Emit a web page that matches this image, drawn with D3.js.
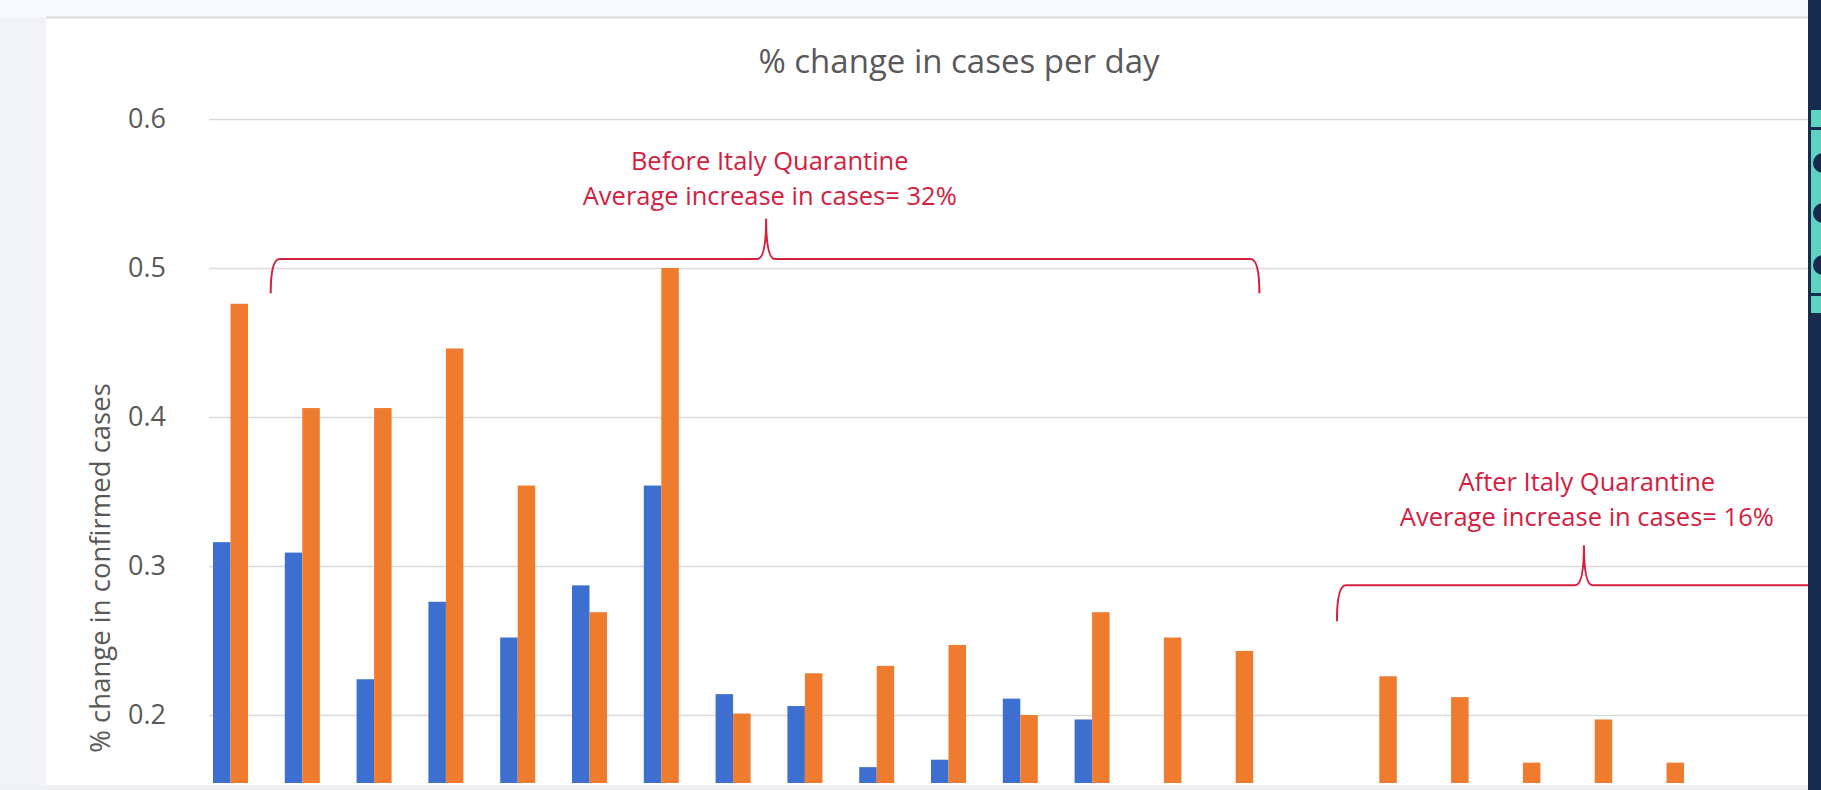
<!DOCTYPE html>
<html>
<head>
<meta charset="utf-8">
<script src="https://cdn.jsdelivr.net/npm/d3@7"></script>
<style>
  html, body { margin: 0; padding: 0; background: #f1f3f6; }
  svg { display: block; }
  .tick text { font-family: "Open Sans", sans-serif; fill: #595959; }
</style>
</head>
<body>
<svg class="chart"></svg>
<script>
// days shown in the crop (x labels are cut off in the picture)
var days = d3.range(1, 22).map(String);
var seriesNames = ["first", "second"];
var blueValues = [0.316, 0.309, 0.224, 0.276, 0.252, 0.287, 0.354, 0.214, 0.206, 0.165, 0.170, 0.211, 0.197,
                  null, null, null, null, null, null, null, null];
var orangeValues = [0.476, 0.406, 0.406, 0.446, 0.354, 0.269, 0.500, 0.201, 0.228, 0.233, 0.247, 0.200, 0.269,
                    0.252, 0.243, null, 0.226, 0.212, 0.168, 0.197, 0.168];
var yTicks = [0.2, 0.3, 0.4, 0.5, 0.6];
var colors = ["#3d6fd0", "#ee7b2e"];

// annotations in data units (x = day index position, y = value)
var braces = [
  {x0: 1.06, x1: 14.83, xm: 7.96, y: 0.506, yEnd: 0.483, yTip: 0.533,
   textX: 8.01, lines: ["Before Italy Quarantine", "Average increase in cases= 32%"], lineY: [0.572, 0.548]},
  {x0: 15.91, x1: 22.79, xm: 19.35, y: 0.287, yEnd: 0.263, yTip: 0.314,
   textX: 19.39, lines: ["After Italy Quarantine", "Average increase in cases= 16%"], lineY: [0.3565, 0.333]}
];

(function () {
  'use strict';

  var W = 1821, H = 790;
  var svg = d3.select(".chart").attr("width", W).attr("height", H);

  // card background
  svg.append("rect").attr("x", 0).attr("y", 0).attr("width", W).attr("height", 17).attr("fill", "#f7f8fa");
  svg.append("rect").attr("x", 46).attr("y", 18).attr("width", 1808 - 46).attr("height", 785 - 18).attr("fill", "#ffffff");
  svg.append("line").attr("x1", 46).attr("x2", 1808).attr("y1", 17.5).attr("y2", 17.5)
     .attr("stroke", "#dcdcdc").attr("stroke-width", 2);

  var plot = {left: 209, right: 1808, top: 0, bottom: 783};
  var step = 71.8, firstCenter = 230.5;

  var x = d3.scaleBand()
      .domain(days)
      .range([firstCenter - step / 2, firstCenter - step / 2 + step * days.length])
      .paddingInner(0.5125)
      .paddingOuter(0.5125 / 2);

  var x1 = d3.scaleBand().domain(seriesNames).range([0, x.bandwidth()]);

  var xi = d3.scaleLinear().domain([0, days.length]).range(x.range());

  var y = d3.scaleLinear().domain([0.2, 0.6]).range([715, 119]);

  svg.append("defs").append("clipPath").attr("id", "plotClip")
     .append("rect").attr("x", 0).attr("y", plot.top)
     .attr("width", plot.right).attr("height", plot.bottom - plot.top);

  // gridlines + tick labels
  var yAxis = d3.axisLeft(y).tickValues(yTicks).tickFormat(d3.format(".1f"))
      .tickSize(-(plot.right - plot.left)).tickPadding(43);
  var gy = svg.append("g").attr("transform", "translate(" + plot.left + ",0)").call(yAxis);
  gy.select(".domain").remove();
  gy.selectAll(".tick line").attr("stroke", "#d9d9d9").attr("stroke-width", 1.5);
  gy.selectAll(".tick text").attr("font-size", 27);

  var chart = svg.append("g").attr("clip-path", "url(#plotClip)");

  var rows = days.map(function (d, i) {
    return {day: d, vals: [blueValues[i], orangeValues[i]]};
  });

  var groups = chart.selectAll(".day").data(rows).enter().append("g")
      .attr("class", "day")
      .attr("transform", function (d) { return "translate(" + x(d.day) + ",0)"; });

  groups.selectAll("rect")
      .data(function (d) {
        return d.vals.map(function (v, k) { return {key: seriesNames[k], value: v, k: k}; })
                     .filter(function (e) { return e.value != null; });
      })
      .enter().append("rect")
      .attr("x", function (d) { return x1(d.key); })
      .attr("width", x1.bandwidth())
      .attr("y", function (d) { return y(d.value); })
      .attr("height", function (d) { return y(0) - y(d.value); })
      .attr("fill", function (d) { return colors[d.k]; });

  // braces
  var red = "#d3203f";
  function bracePath(b) {
    var X0 = xi(b.x0), X1 = xi(b.x1), XM = xi(b.xm);
    var Y = y(b.y), YE = y(b.yEnd), YT = y(b.yTip);
    var r = 9;
    var p = d3.path();
    p.moveTo(X0, YE);
    p.quadraticCurveTo(X0, Y, X0 + r, Y);
    p.lineTo(XM - r, Y);
    p.quadraticCurveTo(XM, Y, XM, YT);
    p.quadraticCurveTo(XM, Y, XM + r, Y);
    p.lineTo(X1 - r, Y);
    p.quadraticCurveTo(X1, Y, X1, YE);
    return p.toString();
  }

  var ann = svg.append("g").attr("clip-path", "url(#plotClip)");
  ann.selectAll(".brace").data(braces).enter().append("path")
     .attr("class", "brace")
     .attr("d", bracePath)
     .attr("fill", "none").attr("stroke", red).attr("stroke-width", 2);

  braces.forEach(function (b) {
    ann.selectAll(null).data(b.lines).enter().append("text")
       .attr("x", xi(b.textX))
       .attr("y", function (d, i) { return y(b.lineY[i]); })
       .attr("dy", "0.35em")
       .attr("text-anchor", "middle")
       .attr("font-family", "Open Sans, sans-serif")
       .attr("font-size", 25.5)
       .attr("fill", red)
       .text(function (d) { return d; });
  });

  // title
  svg.append("text")
     .attr("x", 959).attr("y", 61).attr("dy", "0.35em")
     .attr("text-anchor", "middle")
     .attr("font-family", "Open Sans, sans-serif")
     .attr("font-size", 33)
     .attr("fill", "#595959")
     .text("% change in cases per day");

  // y axis title
  svg.append("text")
     .attr("transform", "translate(100,568) rotate(-90)")
     .attr("dy", "0.35em")
     .attr("text-anchor", "middle")
     .attr("font-family", "Open Sans, sans-serif")
     .attr("font-size", 27.5)
     .attr("fill", "#595959")
     .text("% change in confirmed cases");

  // bottom strip of the screenshot
  svg.append("rect").attr("x", 0).attr("y", 785).attr("width", W).attr("height", H - 785).attr("fill", "#eef0f3");

  // dark side panel at the right edge
  svg.append("rect").attr("x", 1808).attr("y", 0).attr("width", W - 1808).attr("height", H).attr("fill", "#172b4d");
  svg.append("rect").attr("x", 1811).attr("y", 110).attr("width", W - 1811).attr("height", 203).attr("fill", "#5fd3c2");
  [163, 213, 265].forEach(function (cy) {
    svg.append("circle").attr("cx", 1823).attr("cy", cy).attr("r", 10).attr("fill", "#172b4d");
  });
  [127, 293].forEach(function (ly) {
    svg.append("rect").attr("x", 1811).attr("y", ly).attr("width", W - 1811).attr("height", 3).attr("fill", "#172b4d");
  });
})();
</script>
</body>
</html>
